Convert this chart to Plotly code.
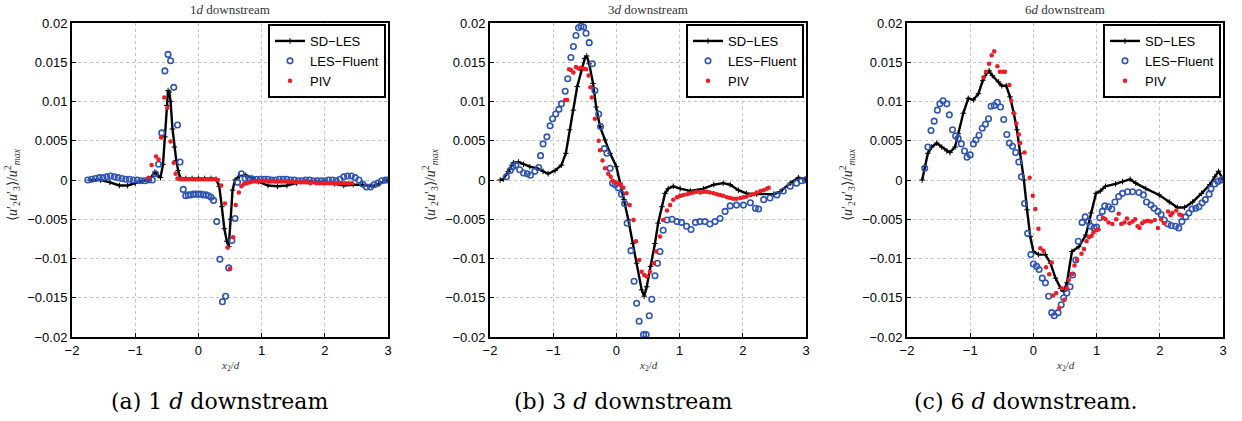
import plotly.graph_objects as go

# ---- panel (a): 1d downstream ----
sd1_x = [-1.72, -1.55, -1.4, -1.25, -1.12, -1.0, -0.88, -0.78, -0.69, -0.64,
         -0.6, -0.56, -0.53, -0.5, -0.48, -0.46, -0.44, -0.41, -0.38, -0.35,
         -0.32, -0.29, -0.2, -0.1, 0.0, 0.1, 0.2, 0.28, 0.33, 0.37,
         0.41, 0.45, 0.48, 0.51, 0.54, 0.58, 0.65, 0.75, 0.85, 0.95,
         1.1, 1.25, 1.4, 1.55, 1.7, 1.85, 2.0, 2.15, 2.3, 2.45,
         2.6, 2.75, 2.85, 2.95, 3.0]
sd1_y = [0.0, 0.0, -0.0003, -0.0007, -0.0007, -0.0004, -0.0001, 0.0, 0.001, 0.0006,
         0.0003, 0.002, 0.0055, 0.0095, 0.0114, 0.0112, 0.01, 0.0065, 0.0042, 0.0025,
         0.0012, 0.0003, 0.0002, 0.0002, 0.0002, 0.0002, 0.0002, 0.0001, -0.0008, -0.0034,
         -0.0062, -0.0078, -0.0085, -0.005, -0.0013, 0.0, 0.0005, 0.0006, 0.0003, -0.0002,
         -0.0007, -0.0008, -0.0007, -0.0004, -0.0002, -0.0002, -0.0003, -0.0005, -0.0007, -0.0006,
         -0.0006, -0.0008, -0.0005, -0.0001, 0.0]

les1_x = [-1.75, -1.69, -1.63, -1.57, -1.51, -1.45, -1.39, -1.33, -1.27, -1.21,
          -1.15, -1.09, -1.03, -0.97, -0.91, -0.85, -0.79, -0.73, -0.68, -0.63,
          -0.58, -0.53, -0.48, -0.44, -0.39, -0.33, -0.29, -0.24, -0.2, -0.16,
          -0.12, -0.08, -0.04, 0.0, 0.04, 0.08, 0.12, 0.16, 0.2, 0.24,
          0.29, 0.34, 0.38, 0.43, 0.48, 0.53, 0.58, 0.62, 0.68, 0.74,
          0.8, 0.86, 0.92, 0.98, 1.04, 1.1, 1.16, 1.22, 1.28, 1.34,
          1.4, 1.46, 1.52, 1.58, 1.64, 1.7, 1.76, 1.82, 1.88, 1.94,
          2.0, 2.06, 2.12, 2.18, 2.24, 2.3, 2.36, 2.42, 2.48, 2.54,
          2.6, 2.66, 2.72, 2.78, 2.84, 2.9, 2.96, 3.0]
les1_y = [0.0, 0.0001, 0.0002, 0.0003, 0.0003, 0.0004, 0.0005, 0.0004, 0.0003, 0.0002,
          0.0001, 0.0001, 0.0, 0.0, -0.0001, -0.0001, 0.0, 0.0, 0.0008, 0.002,
          0.006, 0.0139, 0.016, 0.0152, 0.0118, 0.007, 0.0023, -0.0012, -0.002, -0.0019,
          -0.0019, -0.0018, -0.0018, -0.0018, -0.0018, -0.0019, -0.0019, -0.002, -0.0022, -0.0026,
          -0.0053, -0.0101, -0.0155, -0.0148, -0.0112, -0.0077, -0.0049, -0.0003, 0.0008, 0.0002,
          0.0002, 0.0001, 0.0001, 0.0001, 0.0001, 0.0001, 0.0, 0.0, 0.0001, 0.0001,
          0.0001, 0.0, 0.0, -0.0001, -0.0001, 0.0, 0.0, -0.0001, -0.0001, -0.0001,
          -0.0001, 0.0, 0.0, -0.0001, 0.0001, 0.0004, 0.0005, 0.0005, 0.0003, 0.0,
          -0.0005, -0.0009, -0.0009, -0.0006, -0.0004, -0.0001, 0.0, 0.0]

piv1_x = [-0.79, -0.74, -0.67, -0.63, -0.59, -0.54, -0.49, -0.44, -0.39, -0.36,
          -0.33, -0.29, -0.25, -0.21, -0.17, -0.13, -0.09, -0.05, -0.01, 0.03,
          0.07, 0.11, 0.15, 0.19, 0.23, 0.27, 0.31, 0.36, 0.42, 0.46,
          0.5, 0.55, 0.59, 0.64, 0.68, 0.72, 0.77, 0.82, 0.87, 0.92,
          0.97, 1.02, 1.07, 1.12, 1.17, 1.22, 1.27, 1.32, 1.37, 1.42,
          1.47, 1.52, 1.57, 1.62, 1.67, 1.72, 1.77, 1.82, 1.87, 1.92,
          1.97, 2.02, 2.07, 2.12, 2.17, 2.22, 2.27, 2.32, 2.37, 2.43]
piv1_y = [0.0003, 0.0019, 0.003, 0.0026, 0.0054, 0.0105, 0.0092, 0.0049, 0.0022, 0.0008,
          0.0002, 0.0001, 0.0001, 0.0001, 0.0001, 0.0001, 0.0001, 0.0001, 0.0001, 0.0001,
          0.0001, 0.0001, 0.0001, 0.0001, 0.0001, 0.0001, 0.0, -0.0007, -0.003, -0.0086,
          -0.0113, -0.0073, -0.0032, -0.0016, -0.0008, -0.0005, -0.0004, -0.0003, -0.0002, -0.0002,
          -0.0001, -0.0001, -0.0001, -0.0002, -0.0001, -0.0002, -0.0002, -0.0002, -0.0002, -0.0003,
          -0.0002, -0.0003, -0.0003, -0.0003, -0.0003, -0.0003, -0.0004, -0.0003, -0.0004, -0.0004,
          -0.0004, -0.0004, -0.0004, -0.0004, -0.0004, -0.0004, -0.0004, -0.0004, -0.0004, -0.0004]

# ---- panel (b): 3d downstream ----
sd2_x = [-1.84, -1.79, -1.71, -1.63, -1.55, -1.47, -1.37, -1.26, -1.16, -1.08,
         -0.97, -0.87, -0.8, -0.74, -0.68, -0.62, -0.55, -0.5, -0.47, -0.43,
         -0.37, -0.32, -0.26, -0.18, -0.1, 0.0, 0.06, 0.12, 0.19, 0.26,
         0.32, 0.4, 0.44, 0.48, 0.54, 0.61, 0.66, 0.72, 0.77, 0.82,
         0.9, 1.01, 1.17, 1.38, 1.54, 1.69, 1.8, 1.93, 2.06, 2.22,
         2.49, 2.59, 2.75, 2.88, 2.99]
sd2_y = [0.0, 0.0001, 0.0011, 0.0022, 0.0023, 0.002, 0.0017, 0.0015, 0.0011, 0.0008,
         0.0012, 0.0019, 0.0034, 0.0064, 0.0089, 0.0119, 0.014, 0.0155, 0.0158, 0.0148,
         0.0123, 0.0093, 0.0068, 0.0051, 0.0034, 0.0017, -0.0004, -0.0025, -0.0051, -0.0081,
         -0.0106, -0.014, -0.0148, -0.0136, -0.011, -0.0081, -0.0055, -0.0034, -0.0017, -0.0011,
         -0.0008, -0.0011, -0.0014, -0.0011, -0.0006, -0.0004, -0.0006, -0.0013, -0.0017, -0.0018,
         -0.0018, -0.0015, -0.0004, 0.0003, 0.0001]

les2_x = [-1.74, -1.68, -1.64, -1.59, -1.53, -1.47, -1.41, -1.36, -1.29, -1.23,
          -1.2, -1.16, -1.1, -1.05, -1.01, -0.96, -0.91, -0.87, -0.81, -0.77,
          -0.72, -0.68, -0.64, -0.6, -0.56, -0.52, -0.48, -0.43, -0.38, -0.34,
          -0.28, -0.25, -0.19, -0.15, -0.1, -0.06, -0.02, 0.03, 0.08, 0.13,
          0.17, 0.23, 0.28, 0.32, 0.36, 0.43, 0.47, 0.52, 0.56, 0.61,
          0.65, 0.69, 0.74, 0.8, 0.88, 0.96, 1.03, 1.11, 1.18, 1.25,
          1.32, 1.4, 1.48, 1.56, 1.64, 1.72, 1.8, 1.9, 2.01, 2.12,
          2.2, 2.25, 2.33, 2.43, 2.54, 2.64, 2.75, 2.85, 2.93, 2.99]
les2_y = [0.0004, 0.0012, 0.0017, 0.0019, 0.0013, 0.0009, 0.0008, 0.0006, 0.0011, 0.0016,
          0.0031, 0.0046, 0.0055, 0.0069, 0.0078, 0.0084, 0.009, 0.0097, 0.0113, 0.0129,
          0.0156, 0.017, 0.0184, 0.0194, 0.0196, 0.0195, 0.0187, 0.0175, 0.0148, 0.0114,
          0.0084, 0.0068, 0.004, 0.0034, 0.0015, -0.0004, -0.0006, -0.001, -0.0018, -0.003,
          -0.0055, -0.009, -0.0129, -0.0157, -0.018, -0.0197, -0.0197, -0.0173, -0.0152, -0.0122,
          -0.0106, -0.0091, -0.0064, -0.0051, -0.005, -0.0053, -0.0054, -0.0059, -0.0063, -0.0054,
          -0.0053, -0.0053, -0.0056, -0.0053, -0.0049, -0.004, -0.0033, -0.0032, -0.0032, -0.0029,
          -0.0036, -0.0037, -0.0025, -0.0023, -0.0019, -0.0014, -0.0008, -0.0004, -0.0001, 0.0]

piv2_x = [-0.81, -0.78, -0.75, -0.72, -0.68, -0.64, -0.6, -0.56, -0.52, -0.48,
          -0.44, -0.41, -0.39, -0.34, -0.28, -0.26, -0.22, -0.18, -0.13, -0.09,
          -0.06, -0.02, 0.03, 0.07, 0.11, 0.16, 0.21, 0.27, 0.31, 0.36,
          0.4, 0.44, 0.48, 0.53, 0.59, 0.63, 0.69, 0.74, 0.8, 0.85,
          0.9, 0.96, 1.01, 1.06, 1.12, 1.17, 1.22, 1.27, 1.33, 1.38,
          1.43, 1.48, 1.54, 1.59, 1.64, 1.69, 1.75, 1.8, 1.85, 1.9,
          1.96, 2.01, 2.06, 2.12, 2.17, 2.22, 2.28, 2.33, 2.38, 2.41]
piv2_y = [0.0102, 0.0102, 0.0141, 0.014, 0.0137, 0.0144, 0.0142, 0.0143, 0.0142, 0.0141,
          0.0133, 0.0118, 0.0105, 0.0078, 0.005, 0.0038, 0.0025, 0.0015, 0.0008, 0.0004,
          -0.0001, -0.0003, -0.0004, -0.0006, -0.001, -0.0017, -0.0032, -0.0051, -0.0078, -0.0102,
          -0.0117, -0.0121, -0.0123, -0.0117, -0.0106, -0.0091, -0.0072, -0.0051, -0.0039, -0.0032,
          -0.0025, -0.0022, -0.002, -0.0019, -0.0018, -0.0017, -0.0016, -0.0015, -0.0016, -0.0015,
          -0.0015, -0.0016, -0.0017, -0.0018, -0.0019, -0.002, -0.0022, -0.0023, -0.0024, -0.0024,
          -0.0023, -0.0022, -0.0021, -0.0019, -0.0018, -0.0016, -0.0014, -0.0013, -0.0011, -0.001]

# ---- panel (c): 6d downstream ----
sd3_x = [-1.76, -1.72, -1.67, -1.61, -1.53, -1.45, -1.37, -1.32, -1.24, -1.19,
         -1.11, -1.03, -0.95, -0.87, -0.8, -0.74, -0.7, -0.65, -0.55, -0.5,
         -0.43, -0.37, -0.31, -0.26, -0.21, -0.15, -0.1, -0.05, 0.0, 0.08,
         0.19, 0.27, 0.35, 0.43, 0.48, 0.53, 0.61, 0.72, 0.83, 0.91,
         0.99, 1.06, 1.14, 1.3, 1.41, 1.53, 1.62, 1.78, 1.99, 2.15,
         2.28, 2.39, 2.52, 2.66, 2.79, 2.87, 2.93, 3.0]
sd3_y = [0.0, 0.0017, 0.0034, 0.0042, 0.0047, 0.0042, 0.0037, 0.0035, 0.0042, 0.0059,
         0.0085, 0.0104, 0.0102, 0.011, 0.0127, 0.0136, 0.0139, 0.0133, 0.0125, 0.012,
         0.012, 0.0106, 0.0085, 0.0064, 0.0034, 0.0, -0.0038, -0.0072, -0.0091, -0.0095,
         -0.0095, -0.0106, -0.0125, -0.0138, -0.0142, -0.0131, -0.0091, -0.0085, -0.007, -0.0042,
         -0.0017, -0.0014, -0.0008, -0.0005, -0.0002, 0.0001, -0.0004, -0.0011, -0.0019, -0.0028,
         -0.0035, -0.0035, -0.0028, -0.0017, -0.0006, 0.0004, 0.0011, 0.0001]

les3_x = [-1.72, -1.67, -1.62, -1.57, -1.52, -1.48, -1.43, -1.37, -1.33, -1.28,
          -1.23, -1.19, -1.14, -1.09, -1.05, -1.0, -0.95, -0.91, -0.86, -0.81,
          -0.76, -0.71, -0.67, -0.62, -0.57, -0.52, -0.47, -0.42, -0.38, -0.33,
          -0.28, -0.23, -0.19, -0.14, -0.09, -0.04, 0.0, 0.05, 0.09, 0.14,
          0.19, 0.24, 0.29, 0.33, 0.39, 0.44, 0.48, 0.53, 0.58, 0.62,
          0.67, 0.71, 0.77, 0.82, 0.87, 0.91, 0.96, 1.0, 1.05, 1.09,
          1.13, 1.19, 1.24, 1.29, 1.35, 1.41, 1.49, 1.57, 1.67, 1.74,
          1.79, 1.86, 1.91, 1.97, 2.02, 2.07, 2.13, 2.18, 2.25, 2.3,
          2.35, 2.41, 2.46, 2.51, 2.57, 2.62, 2.67, 2.72, 2.78, 2.81,
          2.87, 2.92, 2.97, 3.0]
les3_y = [0.0015, 0.0042, 0.0063, 0.0075, 0.0089, 0.0097, 0.0101, 0.0097, 0.0083, 0.0064,
          0.0056, 0.0053, 0.0046, 0.0037, 0.0029, 0.0032, 0.0046, 0.0051, 0.0057, 0.0066,
          0.0071, 0.0078, 0.0094, 0.0095, 0.0099, 0.0093, 0.0077, 0.0058, 0.0047, 0.0043,
          0.0035, 0.0023, 0.0004, -0.003, -0.0068, -0.0095, -0.0107, -0.011, -0.0114, -0.0125,
          -0.0131, -0.0148, -0.0169, -0.0173, -0.0169, -0.0159, -0.015, -0.0144, -0.0136, -0.0121,
          -0.0102, -0.0078, -0.0054, -0.0047, -0.0053, -0.0059, -0.0061, -0.006, -0.0048, -0.004,
          -0.0033, -0.0034, -0.0037, -0.0028, -0.0021, -0.0017, -0.0015, -0.0015, -0.0016, -0.0019,
          -0.0028, -0.0032, -0.0036, -0.004, -0.0044, -0.0051, -0.0056, -0.0058, -0.0059, -0.0061,
          -0.0053, -0.0047, -0.0042, -0.0037, -0.0036, -0.0034, -0.0029, -0.0025, -0.0018, -0.0011,
          -0.0005, -0.0002, 0.0, 0.0001]

piv3_x = [-0.79, -0.75, -0.7, -0.66, -0.62, -0.57, -0.53, -0.48, -0.45, -0.38,
          -0.35, -0.31, -0.27, -0.23, -0.21, -0.14, -0.06, -0.01, 0.03, 0.08,
          0.11, 0.16, 0.2, 0.25, 0.29, 0.31, 0.36, 0.41, 0.45, 0.49,
          0.53, 0.56, 0.61, 0.65, 0.69, 0.76, 0.8, 0.84, 0.88, 0.92,
          0.95, 0.99, 1.03, 1.1, 1.14, 1.19, 1.25, 1.31, 1.35, 1.39,
          1.44, 1.48, 1.52, 1.57, 1.61, 1.65, 1.68, 1.72, 1.76, 1.81,
          1.86, 1.92, 1.97, 2.02, 2.07, 2.13, 2.17, 2.2, 2.26, 2.31,
          2.34]
piv3_y = [0.0131, 0.0138, 0.0148, 0.0159, 0.0164, 0.0145, 0.0138, 0.0138, 0.0138, 0.0121,
          0.0101, 0.0085, 0.0072, 0.0058, 0.0047, 0.0035, 0.0003, -0.002, -0.0037, -0.0062,
          -0.0087, -0.009, -0.0111, -0.012, -0.0105, -0.0147, -0.0144, -0.0163, -0.0138, -0.0153,
          -0.0138, -0.0127, -0.012, -0.0109, -0.0102, -0.0094, -0.0088, -0.0078, -0.0073, -0.0071,
          -0.0067, -0.0064, -0.0063, -0.0048, -0.005, -0.0054, -0.0056, -0.005, -0.0043, -0.0056,
          -0.0054, -0.0049, -0.0055, -0.0053, -0.005, -0.0059, -0.0061, -0.0055, -0.0053, -0.0052,
          -0.0053, -0.0051, -0.0061, -0.005, -0.0055, -0.004, -0.0045, -0.0042, -0.0039, -0.0044,
          -0.0045]

panel_titles = ["1<i>d</i> downstream", "3<i>d</i> downstream", "6<i>d</i> downstream"]
captions = ["(a) 1 <i>d</i> downstream", "(b) 3 <i>d</i> downstream", "(c) 6 <i>d</i> downstream."]
xtick_vals = [-2, -1, 0, 1, 2, 3]
xtick_text = ["\u22122", "\u22121", "0", "1", "2", "3"]
ytick_vals = [-0.02, -0.015, -0.01, -0.005, 0, 0.005, 0.01, 0.015, 0.02]
ytick_text = ["\u22120.02", "\u22120.015", "\u22120.01", "\u22120.005", "0",
              "0.005", "0.01", "0.015", "0.02"]

panels = [
    (sd1_x, sd1_y, les1_x, les1_y, piv1_x, piv1_y),
    (sd2_x, sd2_y, les2_x, les2_y, piv2_x, piv2_y),
    (sd3_x, sd3_y, les3_x, les3_y, piv3_x, piv3_y),
]

W, H = 1242, 421
# plot area pixel edges (left, right), shared top/bottom
x_edges = [(72, 388), (490, 806), (907, 1223)]
caption_cx = [219, 623, 1026]
top_px, bot_px = 23, 337
ML, MR, MT, MB = 72, W - 1223, top_px, H - bot_px
PW, PH = W - ML - MR, H - MT - MB


def px_x(p):
    # screen pixel -> paper x
    return (p - ML) / PW


def px_y(p):
    return (H - MB - p) / PH


BLUE = "#2f55b4"
RED = "#ee1c25"
tick_font = dict(family="Liberation Sans, Arial", size=13, color="black")
serif = "Liberation Serif, Times New Roman, serif"

fig = go.Figure()
annotations = []
layout = {}


def note(text, x, y, size, family=serif, color="#333", angle=0):
    annotations.append(dict(text=text, x=px_x(x), y=px_y(y), xref="paper", yref="paper",
                            xanchor="center", yanchor="middle", showarrow=False,
                            textangle=angle, font=dict(family=family, size=size, color=color)))


for i, (sx, sy, lx, ly, px, py) in enumerate(panels):
    n = "" if i == 0 else str(i + 1)
    leg = "legend" + n
    xa, ya = "x" + n, "y" + n
    fig.add_trace(go.Scatter(x=sx, y=sy, mode="lines+markers", name="SD\u2212LES",
                             line=dict(color="black", width=2.4),
                             marker=dict(symbol="cross-thin", size=4,
                                         line=dict(color="black", width=1)),
                             xaxis=xa, yaxis=ya, legend=leg))
    fig.add_trace(go.Scatter(x=lx, y=ly, mode="markers", name="LES\u2212Fluent",
                             marker=dict(symbol="circle-open", size=5.5, color=BLUE,
                                         line=dict(color=BLUE, width=1.6)),
                             xaxis=xa, yaxis=ya, legend=leg))
    fig.add_trace(go.Scatter(x=px, y=py, mode="markers", name="PIV",
                             marker=dict(symbol="circle", size=4.5, color=RED),
                             xaxis=xa, yaxis=ya, legend=leg))

    l, r = x_edges[i]
    axis_common = dict(showline=True, linecolor="black", linewidth=2, mirror=True,
                       ticks="inside", ticklen=4, tickcolor="black", tickwidth=1,
                       showgrid=True, gridcolor="#c4c4c4", griddash="dot", gridwidth=1,
                       zeroline=False, tickfont=tick_font, automargin=False)
    layout["xaxis" + n] = dict(domain=[px_x(l), px_x(r)], range=[-2, 3], anchor=ya,
                               tickvals=xtick_vals, ticktext=xtick_text, **axis_common)
    layout["yaxis" + n] = dict(domain=[0, 1], range=[-0.02, 0.02],
                               anchor=xa, tickvals=ytick_vals, ticktext=ytick_text,
                               **axis_common)
    layout[leg] = dict(x=px_x(r - 2), y=px_y(top_px + 1), xanchor="right", yanchor="top",
                       bgcolor="white", bordercolor="black", borderwidth=2,
                       font=dict(family="Liberation Sans, Arial", size=13, color="black"),
                       itemwidth=30, tracegroupgap=0)

    cx = (l + r) / 2
    note(panel_titles[i], cx, 10, 13)
    note("<i>x</i><sub>2</sub>/<i>d</i>", cx, 366, 11)
    note(captions[i], caption_cx[i], 401, 22, family="DejaVu Serif", color="black")
    note("\u27e8<i>u</i>\u2032<sub>2</sub><i>u</i>\u2032<sub>3</sub>\u27e9/<i>u</i><sup>2</sup><sub><i>max</i></sub>",
         l - 60, 185, 14, angle=-90)

fig.update_layout(width=W, height=H, margin=dict(l=ML, r=MR, t=MT, b=MB, pad=0, autoexpand=False),
                  plot_bgcolor="white", paper_bgcolor="white",
                  annotations=annotations, **layout)

# browser default body margin would shift everything by 8px
fig.write_html("out.html", config={"displayModeBar": False},
               post_script="document.body.style.margin='0';")
